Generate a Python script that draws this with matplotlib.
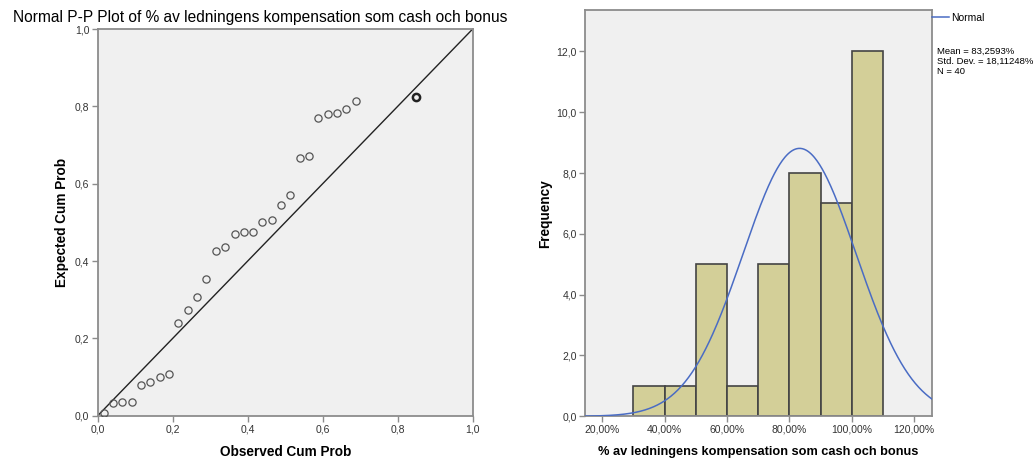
import numpy as np
import matplotlib
matplotlib.use("Agg")
import matplotlib.pyplot as plt
from matplotlib.ticker import FuncFormatter

plt.rcParams['font.family'] = ['Liberation Sans', 'DejaVu Sans']

# P-P plot: observed vs expected cumulative probability
observed_cum = [0.016, 0.041, 0.066, 0.091, 0.116, 0.140, 0.165, 0.190, 0.215, 0.240,
                0.265, 0.290, 0.315, 0.340, 0.365, 0.389, 0.414, 0.439, 0.464, 0.489,
                0.514, 0.539, 0.564, 0.588, 0.613, 0.638, 0.663, 0.688, 0.848]
expected_cum = [0.008, 0.032, 0.035, 0.035, 0.080, 0.087, 0.099, 0.109, 0.240, 0.273,
                0.306, 0.353, 0.427, 0.436, 0.470, 0.474, 0.476, 0.500, 0.507, 0.545,
                0.570, 0.666, 0.672, 0.769, 0.780, 0.782, 0.792, 0.813, 0.823]
tied_count = [1] * 28 + [12]

# Histogram
bin_edges = [30, 40, 50, 60, 70, 80, 90, 100, 110]
bin_counts = [1, 1, 5, 1, 5, 8, 7, 12]
mean_val = 83.2593
std_val = 18.11248
n_obs = 40

title_txt = "Normal P-P Plot of % av ledningens kompensation som cash och bonus"
var_label = "% av ledningens kompensation som cash och bonus"

bg = '#F0F0F0'
frame_col = '#8C8C8C'
tick_col = '#333333'

def comma(fmt):
    return FuncFormatter(lambda v, p: fmt.format(v).replace('.', ','))

fig = plt.figure(figsize=(10.35, 4.59), dpi=100)

# ---- left: P-P plot ----
ax1 = fig.add_axes([0.0944, 0.0943, 0.3623, 0.8425])
ax1.set_facecolor(bg)
ax1.plot([0, 1], [0, 1], color='#222222', lw=1.0, zorder=2)
for x, y, c in zip(observed_cum, expected_cum, tied_count):
    ax1.plot(x, y, 'o', ms=5.2, mfc='none', mec='#222222' if c > 1 else '#555555',
             mew=1.8 if c > 1 else 0.9, zorder=3)
ax1.set_xlim(0, 1)
ax1.set_ylim(0, 1)
ax1.set_xticks(np.arange(0, 1.01, 0.2))
ax1.set_yticks(np.arange(0, 1.01, 0.2))
ax1.xaxis.set_major_formatter(comma("{:.1f}"))
ax1.yaxis.set_major_formatter(comma("{:.1f}"))
ax1.set_xlabel("Observed Cum Prob", fontsize=9.8, fontweight='bold', labelpad=8)
ax1.set_ylabel("Expected Cum Prob", fontsize=9.8, fontweight='bold', labelpad=4)
fig.text(0.2512, 0.962, title_txt, ha='center', va='center', fontsize=11.2)

# ---- right: histogram ----
ax2 = fig.add_axes([0.5652, 0.0930, 0.3350, 0.8852])
ax2.set_facecolor(bg)
ax2.hist(np.repeat([(a + b) / 2 for a, b in zip(bin_edges[:-1], bin_edges[1:])], bin_counts),
         bins=bin_edges, color='#D3CF98', edgecolor='#444444', linewidth=1.2, zorder=2)
xs = np.linspace(14.5, 125.6, 400)
pdf = n_obs * 10 / (std_val * np.sqrt(2 * np.pi)) * np.exp(-0.5 * ((xs - mean_val) / std_val) ** 2)
line, = ax2.plot(xs, pdf, color='#4A6CC4', lw=1.1, zorder=3)
ax2.set_xlim(14.5, 125.6)
ax2.set_ylim(0, 13.36)
ax2.set_xticks(np.arange(20, 121, 20))
ax2.set_yticks(np.arange(0, 12.1, 2))
ax2.xaxis.set_major_formatter(comma("{:.2f}%"))
ax2.yaxis.set_major_formatter(comma("{:.1f}"))
ax2.set_xlabel(var_label, fontsize=9.2, fontweight='bold', labelpad=8)
ax2.set_ylabel("Frequency", fontsize=9.8, fontweight='bold', labelpad=3)

# legend and stats outside
fig.legend([line], ["Normal"], loc='center left', bbox_to_anchor=(0.9005, 0.9614),
           frameon=False, fontsize=7.5, handlelength=1.6, handletextpad=0.2,
           borderaxespad=0, borderpad=0)
stats = "Mean = 83,2593%\nStd. Dev. = 18,11248%\nN = {}".format(n_obs)
fig.text(0.9055, 0.897, stats, ha='left', va='top', fontsize=6.8, linespacing=1.1)

for ax in (ax1, ax2):
    for s in ax.spines.values():
        s.set_color(frame_col)
        s.set_linewidth(1.3)
    ax.tick_params(axis='both', direction='out', length=4, width=1, color=frame_col,
                   labelsize=7.5, labelcolor=tick_col, pad=2)

plt.savefig("out.png", dpi=100)
